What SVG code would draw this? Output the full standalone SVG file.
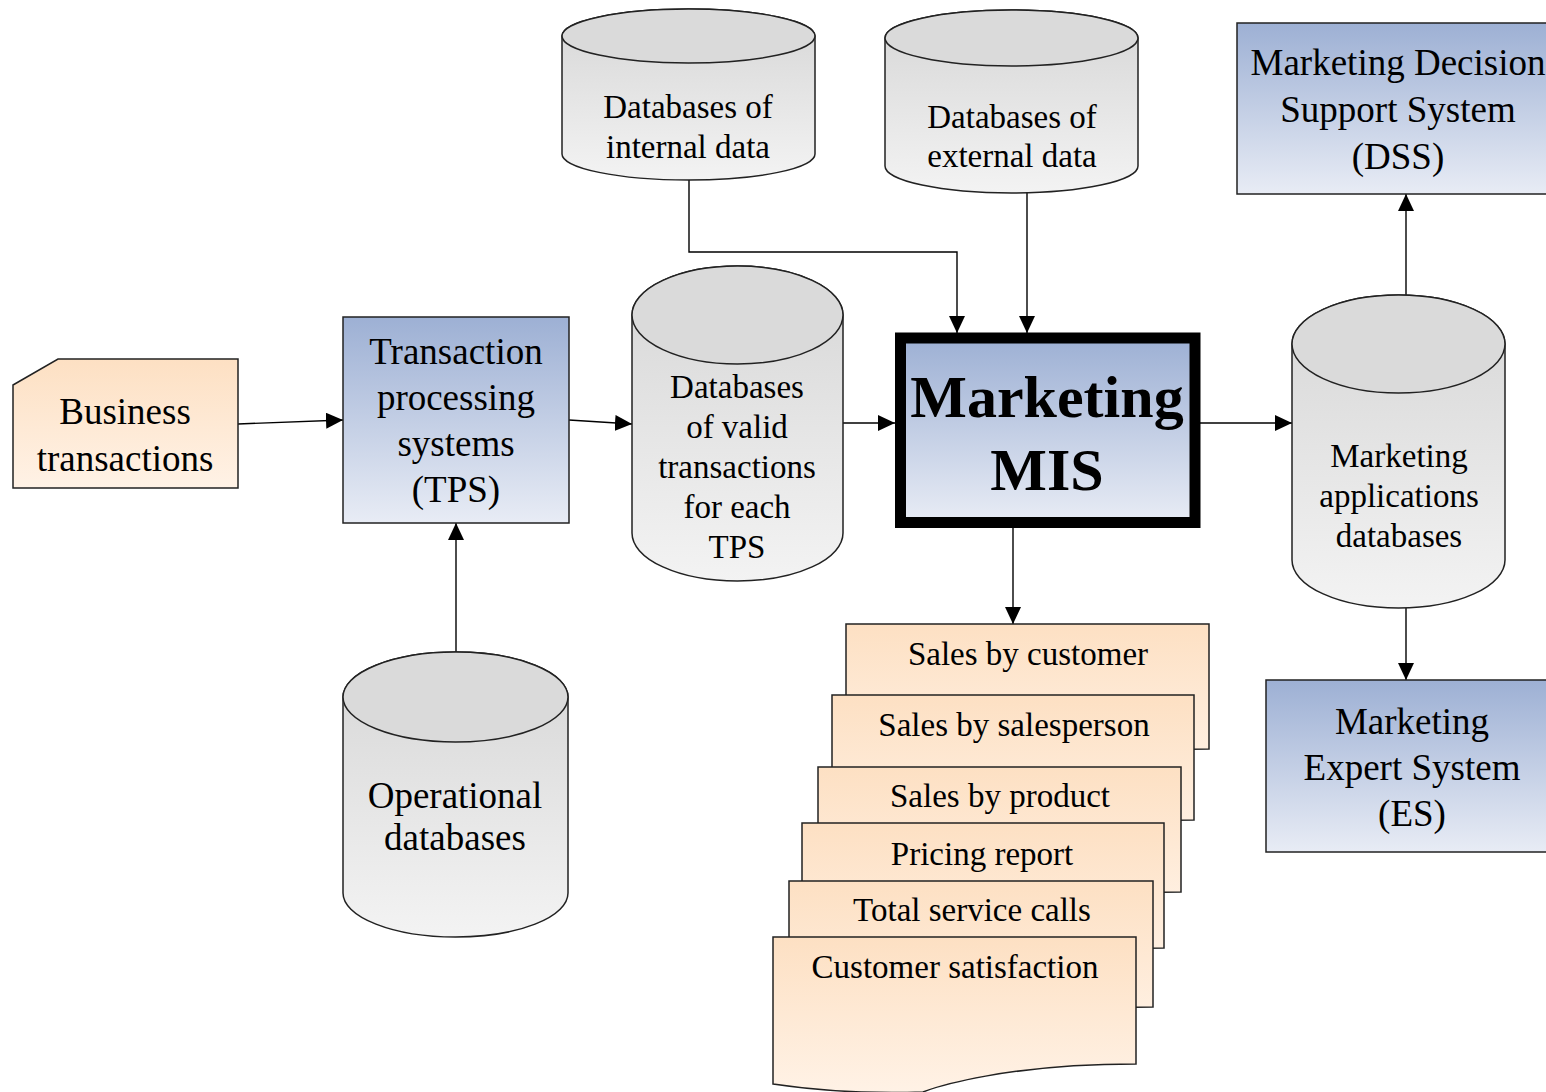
<svg xmlns="http://www.w3.org/2000/svg" width="1546" height="1092" viewBox="0 0 1546 1092">
  <defs>
    <linearGradient id="gBlue" x1="0" y1="0" x2="0" y2="1">
      <stop offset="0" stop-color="#9db0d4"/>
      <stop offset="1" stop-color="#e8ecf5"/>
    </linearGradient>
    <linearGradient id="gPeach" x1="0" y1="0" x2="0" y2="1">
      <stop offset="0" stop-color="#fde0c3"/>
      <stop offset="1" stop-color="#fff2e6"/>
    </linearGradient>
    <linearGradient id="gGray" x1="0" y1="0" x2="0" y2="1">
      <stop offset="0" stop-color="#d6d6d6"/>
      <stop offset="1" stop-color="#f3f3f3"/>
    </linearGradient>
    <marker id="arrow" markerUnits="userSpaceOnUse" markerWidth="18" markerHeight="16" refX="17" refY="8" orient="auto">
      <path d="M0,0 L17,8 L0,16 Z" fill="#000"/>
    </marker>
  </defs>
  <style>
    .box { fill: url(#gBlue); stroke: #222; stroke-width: 1.5; }
    .card { fill: url(#gPeach); stroke: #222; stroke-width: 1.5; }
    .page { fill: url(#gPeach); stroke: #222; stroke-width: 1.5; }
    .cyl { fill: url(#gGray); stroke: #222; stroke-width: 1.5; }
    .cyltop { fill: #dadada; stroke: #222; stroke-width: 1.5; }
    .conn { fill: none; stroke: #000; stroke-width: 1.4; marker-end: url(#arrow); }
    text { font-family: "Liberation Serif", "Times New Roman", serif; fill: #000; text-anchor: middle; }
    .lg { font-size: 37px; }
    .md { font-size: 33px; }
    .big { font-size: 60px; font-weight: bold; }
  </style>

  <rect width="1546" height="1092" fill="#fff"/>

  <!-- connectors -->
  <g id="connectors">
    <path class="conn" d="M238,424 L343,420"/>
    <path class="conn" d="M569,420 L632,424"/>
    <path class="conn" d="M843,423 L895,423"/>
    <path class="conn" d="M689,180 V252 H957 V333"/>
    <path class="conn" d="M1027,193 V333"/>
    <path class="conn" d="M1200,423 L1292,423"/>
    <path class="conn" d="M1406,295 V194"/>
    <path class="conn" d="M1406,608 V680"/>
    <path class="conn" d="M1013,528 V624"/>
    <path class="conn" d="M456,652 V523"/>
  </g>

  <!-- input card -->
  <g id="business-transactions">
    <path class="card" d="M13,385 L58,359 H238 V488 H13 Z"/>
    <text class="lg" x="125" y="424">Business</text>
    <text class="lg" x="125" y="471">transactions</text>
  </g>

  <g id="tps">
    <rect class="box" x="343" y="317" width="226" height="206"/>
    <text class="lg" x="456" y="364">Transaction</text>
    <text class="lg" x="456" y="410">processing</text>
    <text class="lg" x="456" y="456">systems</text>
    <text class="lg" x="456" y="502">(TPS)</text>
  </g>

  <g id="operational-db">
    <path class="cyl" d="M343,697 V893 A112.5,44 0 0 0 568,893 V697 A112.5,45 0 0 0 343,697 Z"/>
    <ellipse class="cyltop" cx="455.5" cy="697" rx="112.5" ry="45"/>
    <text class="lg" x="455" y="808">Operational</text>
    <text class="lg" x="455" y="850">databases</text>
  </g>

  <g id="valid-transactions-db">
    <path class="cyl" d="M632,315 V533 A105.5,48 0 0 0 843,533 V315 A105.5,49 0 0 0 632,315 Z"/>
    <ellipse class="cyltop" cx="737.5" cy="315" rx="105.5" ry="49"/>
    <text class="md" x="737" y="398">Databases</text>
    <text class="md" x="737" y="438">of valid</text>
    <text class="md" x="737" y="478">transactions</text>
    <text class="md" x="737" y="518">for each</text>
    <text class="md" x="737" y="558">TPS</text>
  </g>

  <g id="internal-db">
    <path class="cyl" d="M562,36 V154 A126.5,26 0 0 0 815,154 V36 A126.5,27 0 0 0 562,36 Z"/>
    <ellipse class="cyltop" cx="688.5" cy="36" rx="126.5" ry="27"/>
    <text class="md" x="688" y="118">Databases of</text>
    <text class="md" x="688" y="158">internal data</text>
  </g>

  <g id="external-db">
    <path class="cyl" d="M885,38 V166 A126.5,27 0 0 0 1138,166 V38 A126.5,28 0 0 0 885,38 Z"/>
    <ellipse class="cyltop" cx="1011.5" cy="38" rx="126.5" ry="28"/>
    <text class="md" x="1012" y="128">Databases of</text>
    <text class="md" x="1012" y="167">external data</text>
  </g>

  <g id="marketing-mis">
    <rect x="900.5" y="338" width="294.5" height="184.5" fill="url(#gBlue)" stroke="#000" stroke-width="11"/>
    <text class="big" x="1047" y="417">Marketing</text>
    <text class="big" x="1047" y="490">MIS</text>
  </g>

  <g id="marketing-apps-db">
    <path class="cyl" d="M1292,344 V560 A106.5,48 0 0 0 1505,560 V344 A106.5,49 0 0 0 1292,344 Z"/>
    <ellipse class="cyltop" cx="1398.5" cy="344" rx="106.5" ry="49"/>
    <text class="md" x="1399" y="467">Marketing</text>
    <text class="md" x="1399" y="507">applications</text>
    <text class="md" x="1399" y="547">databases</text>
  </g>

  <g id="dss">
    <rect class="box" x="1237" y="23" width="330" height="171"/>
    <text class="lg" x="1398" y="75">Marketing Decision</text>
    <text class="lg" x="1398" y="122">Support System</text>
    <text class="lg" x="1398" y="169">(DSS)</text>
  </g>

  <g id="es">
    <rect class="box" x="1266" y="680" width="300" height="172"/>
    <text class="lg" x="1412" y="734">Marketing</text>
    <text class="lg" x="1412" y="780">Expert System</text>
    <text class="lg" x="1412" y="826">(ES)</text>
  </g>

  <!-- stack of report documents, back to front -->
  <g id="report-sales-by-customer">
    <path class="page" d="M846,624 H1209 V749 C1079,749 1009,772 996,777 C936,779 886,775 846,771 Z"/>
    <text class="md" x="1028" y="665">Sales by customer</text>
  </g>
  <g id="report-sales-by-salesperson">
    <path class="page" d="M832,695 H1194 V820 C1064,820 994,843 982,848 C922,850 872,846 832,842 Z"/>
    <text class="md" x="1014" y="736">Sales by salesperson</text>
  </g>
  <g id="report-sales-by-product">
    <path class="page" d="M818,767 H1181 V892 C1051,892 981,915 968,920 C908,922 858,918 818,914 Z"/>
    <text class="md" x="1000" y="807">Sales by product</text>
  </g>
  <g id="report-pricing">
    <path class="page" d="M802,823 H1164 V948 C1034,948 964,971 952,976 C892,978 842,974 802,970 Z"/>
    <text class="md" x="982" y="865">Pricing report</text>
  </g>
  <g id="report-service-calls">
    <path class="page" d="M789,881 H1153 V1007 C1023,1007 953,1030 940,1035 C880,1037 830,1033 789,1029 Z"/>
    <text class="md" x="972" y="921">Total service calls</text>
  </g>
  <g id="report-customer-satisfaction">
    <path class="page" d="M773,937 H1136 V1064 C1006,1064 936,1087 923,1092 C863,1094 813,1090 773,1084 Z"/>
    <text class="md" x="955" y="978">Customer satisfaction</text>
  </g>
</svg>
